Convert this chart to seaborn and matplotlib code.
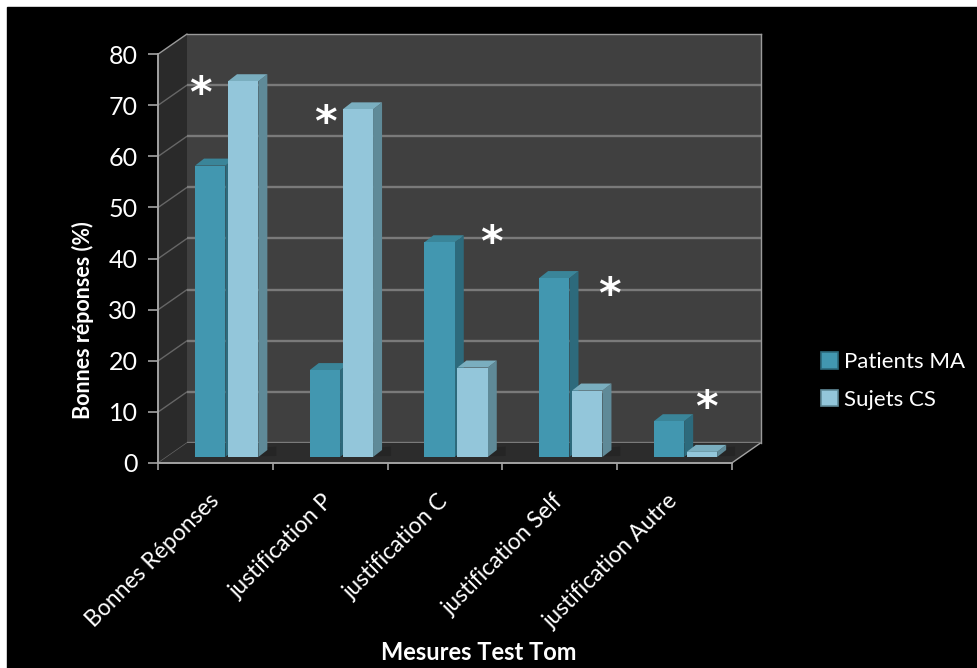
import matplotlib
matplotlib.use("Agg")
import matplotlib.pyplot as plt
import pandas as pd
import seaborn as sns
from matplotlib.patches import Polygon, Rectangle, Patch

# ---- data -------------------------------------------------------------
categories = ["Bonnes Réponses", "justification P", "justification C",
              "justification Self", "justification Autre"]
series_names = ["Patients MA", "Sujets CS"]
patients_ma = [57, 17, 42, 35, 7]
sujets_cs = [73.5, 68, 17.5, 13, 1]
y_ticks = [0, 10, 20, 30, 40, 50, 60, 70, 80]
# significance markers (category position, height)
star_x = [-0.23, 0.86, 2.31, 3.34, 4.18]
star_y = [70.8, 65.2, 41.6, 31.5, 9.4]

df = pd.DataFrame({
    "Mesure": categories * 2,
    "Groupe": [series_names[0]] * 5 + [series_names[1]] * 5,
    "Valeur": patients_ma + sujets_cs,
})

# ---- style --------------------------------------------------------------
sns.set_theme(style="white")
FONT = ["Lato", "DejaVu Sans"]
plt.rcParams["font.family"] = FONT

W, H = 978, 668
fig = plt.figure(figsize=(W / 100, H / 100), dpi=100, facecolor="white")
fig.patches.append(Rectangle((7 / W, 0), 1 - 7 / W, 1 - 7 / H,
                             transform=fig.transFigure, color="black", zorder=-10))

def rect(left, bottom, width, height):
    return [left / W, 1 - bottom / H, width / W, height / H]

PW, PH = 573.5, 409.0          # plot plane size in px
ax_back = fig.add_axes(rect(187, 443, PW, PH), zorder=0)
ax = fig.add_axes(rect(169.35, 457, PW, PH), zorder=1)
ax_front = fig.add_axes(rect(158.3, 463, PW, PH), zorder=2)

for a in (ax_back, ax, ax_front):
    a.set_xlim(-0.5, 4.5)
    a.set_ylim(0, 80)

# colours
MA_FRONT, MA_SIDE, MA_TOP = "#4297b0", "#2d6a7c", "#3a8599"
CS_FRONT, CS_SIDE, CS_TOP = "#93c6da", "#5f8a98", "#7aaebf"
WALL, SIDEWALL, FLOOR = "#404040", "#2a2a2a", "#2c2c2c"
GRID, AXIS = "#7a7a7a", "#a3a3a3"

# ---- back wall ------------------------------------------------------------
ax_back.set_facecolor(WALL)
for s in ax_back.spines.values():
    s.set_visible(False)
for side in ("top", "right"):
    ax_back.spines[side].set_visible(True)
    ax_back.spines[side].set_color("#9a9a9a")
    ax_back.spines[side].set_linewidth(1.0)
ax_back.set_xticks([])
ax_back.set_yticks([])
for v in y_ticks[:-1]:
    ax_back.axhline(v, color=GRID, lw=1.7, zorder=1)


def px(a, x, y):
    """data -> display pixel coordinates of a given axes"""
    return a.transData.transform((x, y))


fig.canvas.draw()
inv = fig.transFigure.inverted()

def fig_pts(points):
    return [inv.transform(p) for p in points]

# left side wall
side_poly = Polygon(fig_pts([px(ax_front, -0.5, 0), px(ax_back, -0.5, 0),
                             px(ax_back, -0.5, 80), px(ax_front, -0.5, 80)]),
                    closed=True, transform=fig.transFigure, facecolor=SIDEWALL,
                    edgecolor="none", clip_on=False, zorder=0.5)
ax_back.add_artist(side_poly)
for v in y_ticks:
    (x0, y0), (x1, y1) = fig_pts([px(ax_front, -0.5, v), px(ax_back, -0.5, v)])
    col = "#9a9a9a" if v == 80 else "#666666"
    ax_back.add_artist(plt.Line2D([x0, x1], [y0, y1], transform=fig.transFigure,
                                  color=col, lw=1.0, clip_on=False, zorder=0.6))

# floor
floor_poly = Polygon(fig_pts([px(ax_front, -0.5, 0), px(ax_front, 4.5, 0),
                              px(ax_back, 4.5, 0), px(ax_back, -0.5, 0)]),
                     closed=True, transform=fig.transFigure, facecolor=FLOOR,
                     edgecolor="none", clip_on=False, zorder=0.7)
ax_back.add_artist(floor_poly)
(x0, y0), (x1, y1) = fig_pts([px(ax_front, 4.5, 0), px(ax_back, 4.5, 0)])
ax_back.add_artist(plt.Line2D([x0, x1], [y0, y1], transform=fig.transFigure,
                              color=AXIS, lw=1.0, clip_on=False, zorder=0.8))

# ---- bars ---------------------------------------------------------------------
ax.patch.set_alpha(0)
sns.barplot(data=df, x="Mesure", y="Valeur", hue="Groupe", order=categories,
            hue_order=series_names, palette=[MA_FRONT, CS_FRONT], saturation=1,
            width=0.575, gap=0.08, linewidth=0, legend=False, ax=ax, zorder=3)
ax.set_xlim(-0.5, 4.5)
ax.set_ylim(0, 80)
ax.axis("off")

ddx = 9 / (PW / 5)        # bar depth, horizontal part
ddy = 7 / (PH / 80)       # bar depth, vertical part
shades = [(MA_SIDE, MA_TOP), (CS_SIDE, CS_TOP)]
for container, (c_side, c_top) in zip(ax.containers, shades):
    for bar in container:
        x0 = bar.get_x()
        x1 = x0 + bar.get_width()
        h = bar.get_height()
        # soft floor shadow behind the column
        ax.add_patch(Polygon([(x0 + ddx, ddy), (x1 + 2.0 * ddx, 1.5 * ddy),
                              (x1 + 2.0 * ddx, 0.2), (x0, 0)],
                             closed=True, facecolor="#1e1e1e", edgecolor="none",
                             alpha=0.45, zorder=1))
        ax.add_patch(Polygon([(x1, 0), (x1 + ddx, ddy), (x1 + ddx, h + ddy), (x1, h)],
                             closed=True, facecolor=c_side, edgecolor="none", zorder=2))
        ax.add_patch(Polygon([(x0, h), (x0 + ddx, h + ddy), (x1 + ddx, h + ddy), (x1, h)],
                             closed=True, facecolor=c_top, edgecolor="none", zorder=2))

for sx, sy in zip(star_x, star_y):
    ax.text(sx, sy, "*", color="white", fontsize=31, fontweight="bold",
            ha="center", va="center", family=["DejaVu Sans"], zorder=5)

# ---- front axes (ticks + labels) ---------------------------------------------
ax_front.patch.set_alpha(0)
for side in ("top", "right"):
    ax_front.spines[side].set_visible(False)
for side in ("left", "bottom"):
    ax_front.spines[side].set_color(AXIS)
    ax_front.spines[side].set_linewidth(1.4)
ax_front.set_yticks(y_ticks)
ax_front.set_yticklabels([str(v) for v in y_ticks])
ax_front.tick_params(axis="y", direction="out", length=7, width=1.2, color=AXIS,
                     labelcolor="white", labelsize=18, pad=8, left=True)
ax_front.set_xticks(range(len(categories)))
ax_front.set_xticklabels(categories, rotation=45, ha="right", va="center",
                         rotation_mode="anchor")
ax_front.tick_params(axis="x", which="major", length=0, labelcolor="white",
                     labelsize=16.5, pad=25)
ax_front.set_xticks([i - 0.5 for i in range(len(categories) + 1)], minor=True)
ax_front.tick_params(axis="x", which="minor", direction="out", length=5,
                     width=1.2, color=AXIS, bottom=True)
ax_front.grid(False)

fig.text(83 / W, 1 - 320 / H, "Bonnes réponses (%)", rotation=90, color="white",
         fontsize=15.5, fontweight="bold", ha="center", va="center")
fig.text(479 / W, 1 - 652 / H, "Mesures Test Tom", color="white",
         fontsize=17, fontweight="bold", ha="center", va="center")

handles = [Patch(facecolor=MA_FRONT, edgecolor=MA_SIDE, linewidth=1.2),
           Patch(facecolor=CS_FRONT, edgecolor=CS_SIDE, linewidth=1.2)]
fig.legend(handles, series_names, loc="center left",
           bbox_to_anchor=(810 / W, 1 - 381 / H), frameon=False,
           fontsize=16, labelcolor="white", handlelength=0.75, handleheight=0.75,
           handletextpad=0.3, labelspacing=0.8, borderpad=0)

fig.savefig("out.png", dpi=100, facecolor=fig.get_facecolor())
